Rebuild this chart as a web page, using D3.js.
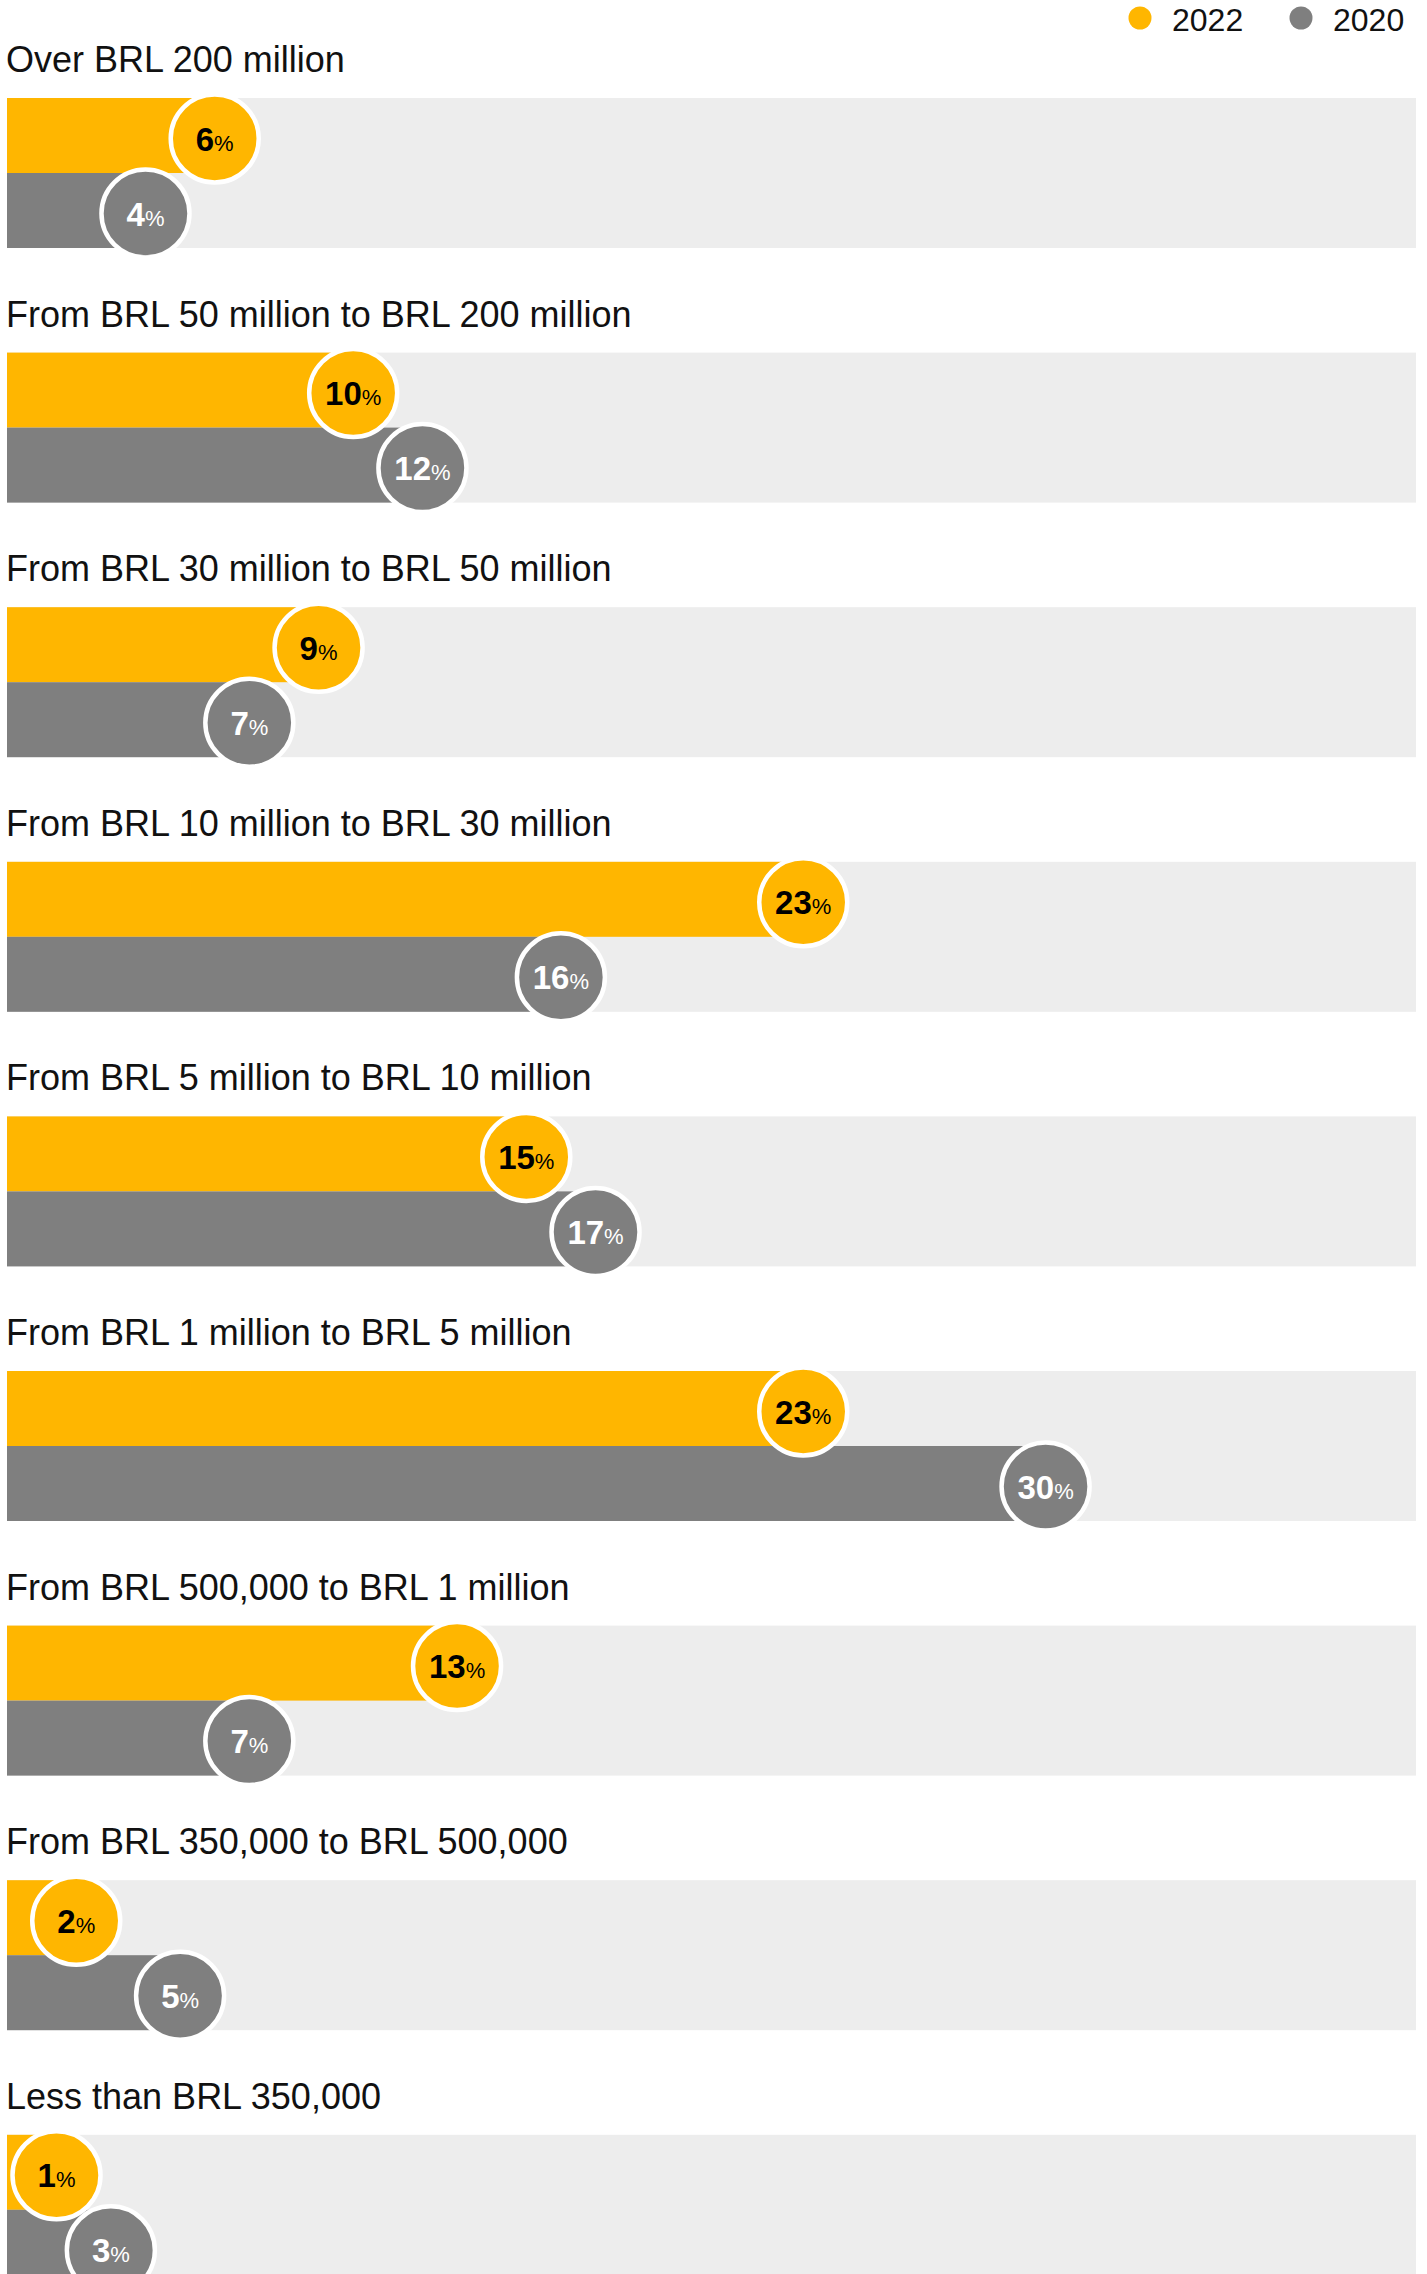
<!DOCTYPE html>
<html>
<head>
<meta charset="utf-8">
<script src="https://cdn.jsdelivr.net/npm/d3@7"></script>
<style>
  html, body { margin: 0; padding: 0; background: #ffffff; }
  svg { display: block; font-family: "Liberation Sans", Arial, Helvetica, sans-serif; }
</style>
</head>
<body>
<svg id="chart"></svg>
<script>
// Revenue bands (top to bottom)
const categories = [
  "Over BRL 200 million",
  "From BRL 50 million to BRL 200 million",
  "From BRL 30 million to BRL 50 million",
  "From BRL 10 million to BRL 30 million",
  "From BRL 5 million to BRL 10 million",
  "From BRL 1 million to BRL 5 million",
  "From BRL 500,000 to BRL 1 million",
  "From BRL 350,000 to BRL 500,000",
  "Less than BRL 350,000"
];

// Share of respondents per band (%)
const values2022 = [6, 10, 9, 23, 15, 23, 13, 2, 1];
const values2020 = [4, 12, 7, 16, 17, 30, 7, 5, 3];

const seriesNames = ["2022", "2020"];
const seriesColors = ["#FFB600", "#7F7F7F"];
const labelColors = ["#000000", "#ffffff"];

// Full track length corresponds to this share
const trackMax = 40.7;

const W = 1427, H = 2274;
const svg = d3.select("#chart").attr("width", W).attr("height", H);

const left = 7, right = 1416;
const x = d3.scaleLinear().domain([0, trackMax]).range([left, right]);

const groupStep = 254.6, barBlock = 150, firstTop = 98;
const y = d3.scaleBand()
  .domain(categories)
  .range([firstTop, firstTop + (categories.length - 1) * groupStep + barBlock])
  .paddingInner(1 - barBlock / groupStep)
  .paddingOuter(0);

const ySub = d3.scaleBand().domain(seriesNames).range([0, y.bandwidth()]);

const rows = categories.map((c, i) => ({
  category: c,
  series: [
    { name: seriesNames[0], value: values2022[i], color: seriesColors[0], text: labelColors[0] },
    { name: seriesNames[1], value: values2020[i], color: seriesColors[1], text: labelColors[1] }
  ]
}));

const R = 44, ring = 4.5;
const minCenter = left + R + ring + 1;

const groups = svg.selectAll("g.group")
  .data(rows)
  .join("g")
  .attr("class", "group")
  .attr("transform", d => `translate(0,${y(d.category)})`);

// category label
groups.append("text")
  .attr("x", 6)
  .attr("y", -26)
  .attr("font-size", 36)
  .attr("fill", "#111")
  .text(d => d.category);

// track
groups.append("rect")
  .attr("x", left)
  .attr("y", 0)
  .attr("width", right - left)
  .attr("height", y.bandwidth())
  .attr("fill", "#EDEDED");

// bars
groups.selectAll("rect.bar")
  .data(d => d.series)
  .join("rect")
  .attr("class", "bar")
  .attr("x", left)
  .attr("y", s => ySub(s.name))
  .attr("width", s => x(s.value) - left)
  .attr("height", ySub.bandwidth())
  .attr("fill", s => s.color);

// value badges
const badges = groups.selectAll("g.badge")
  .data(d => d.series)
  .join("g")
  .attr("class", "badge")
  .attr("transform", s => `translate(${Math.max(x(s.value), minCenter)},${ySub(s.name) + ySub.bandwidth() / 2 + 3})`);

badges.append("circle")
  .attr("r", R)
  .attr("fill", s => s.color)
  .attr("stroke", "#ffffff")
  .attr("stroke-width", ring);

const lbl = badges.append("text")
  .attr("text-anchor", "middle")
  .attr("y", 12)
  .attr("fill", s => s.text);
lbl.append("tspan")
  .attr("font-size", 33)
  .attr("font-weight", 700)
  .text(s => s.value);
lbl.append("tspan")
  .attr("font-size", 22)
  .attr("font-weight", 400)
  .text("%");

// legend
const legend = svg.append("g").attr("class", "legend");
const legendX = [1140, 1301];
seriesNames.forEach((n, i) => {
  legend.append("circle")
    .attr("cx", legendX[i]).attr("cy", 18).attr("r", 11.5)
    .attr("fill", seriesColors[i]);
  legend.append("text")
    .attr("x", legendX[i] + 32).attr("y", 31)
    .attr("font-size", 32)
    .attr("fill", "#111")
    .text(n);
});
</script>
</body>
</html>
